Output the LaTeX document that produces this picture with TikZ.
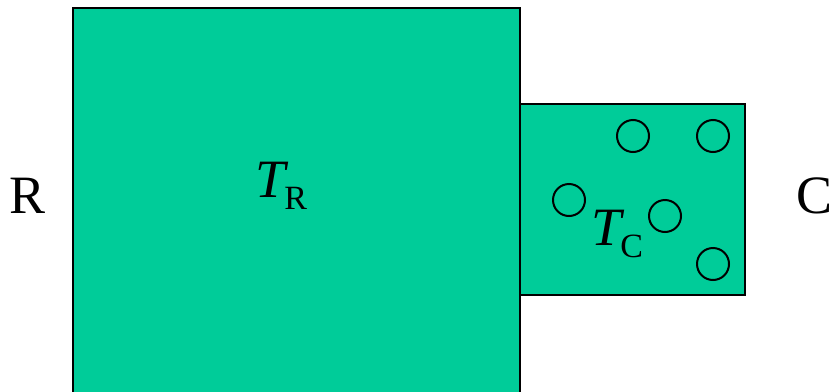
\documentclass[tikz,border=0pt]{standalone}
\usepackage{fontspec}
\setmainfont{Liberation Serif}
\definecolor{bathgreen}{HTML}{00CC99}
\newcommand{\tempsub}[1]{\textit{T}\kern-4pt\raisebox{-12pt}{\fontsize{34}{34}\selectfont #1}}

\begin{document}
\begin{tikzpicture}[x=1pt,y=-1pt,
    body/.style={draw=black, line width=2.6pt, fill=bathgreen},
    particle/.style={circle, draw=black, line width=2pt, minimum size=32pt, inner sep=0pt},
    lbl/.style={font=\fontsize{54}{60}\selectfont, inner sep=0pt, anchor=base west}]

\useasboundingbox (0,0) rectangle (829,391);
\clip (0,0) rectangle (829,391);

% Reservoir and system
\draw[body] (73,8) rectangle (520,420);
\draw[body] (520,104) rectangle (745,295);

% Particles in C
\node[particle] (p1) at (633,136) {};
\node[particle] (p2) at (713,136) {};
\node[particle] (p3) at (569,200) {};
\node[particle] (p4) at (665,216) {};
\node[particle] (p5) at (713,264) {};

% Labels
\node[lbl] (tr) at (255,197) {\tempsub{R}};
\node[lbl] (tc) at (591,245) {\tempsub{C}};
\node[lbl] (r) at (9,213) {R};
\node[lbl] (c) at (796,213) {C};
\end{tikzpicture}
\end{document}
